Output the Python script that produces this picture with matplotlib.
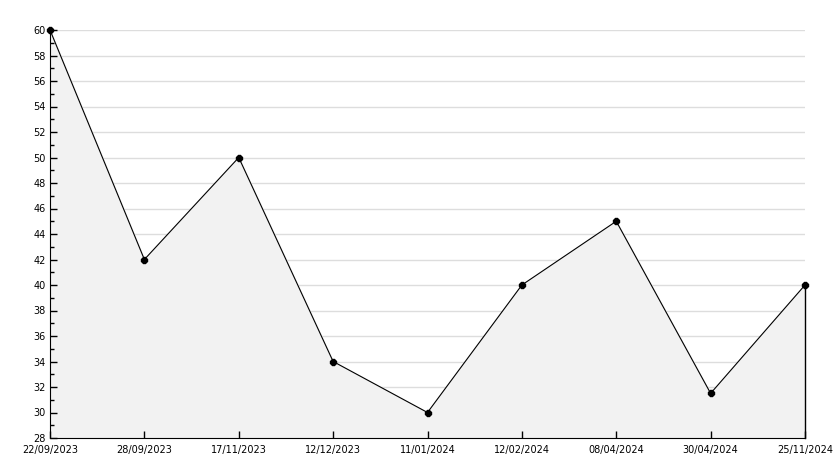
import matplotlib
matplotlib.use('Agg')
import matplotlib.pyplot as plt
from matplotlib.ticker import MultipleLocator

# data
dates = ['22/09/2023', '28/09/2023', '17/11/2023', '12/12/2023', '11/01/2024',
         '12/02/2024', '08/04/2024', '30/04/2024', '25/11/2024']
values = [60, 42, 50, 34, 30, 40, 45, 31.5, 40]

fig = plt.figure(figsize=(8.34, 4.68), dpi=100)
ax = fig.add_axes([50 / 834, 30 / 468, 755 / 834, 408 / 468])

x = list(range(len(dates)))
ymin, ymax = 28, 60

# grid under the filled area
for v in range(30, 61, 2):
    ax.axhline(v, color='#dddddd', linewidth=1, zorder=0)

ax.fill_between(x, values, ymin, color='#f2f2f2', zorder=1)
ax.plot([x[-1], x[-1]], [ymin, values[-1]], color='black', linewidth=1,
        zorder=2, clip_on=False)
ax.plot(x, values, color='black', linewidth=0.8, zorder=3)
ax.plot(x, values, linestyle='none', marker='8', markersize=4.5, color='black',
        zorder=4, clip_on=False)

ax.set_xlim(0, len(dates) - 1)
ax.set_ylim(ymin, ymax)
ax.set_xticks(x)
ax.set_xticklabels(dates)
ax.yaxis.set_major_locator(MultipleLocator(2))
ax.yaxis.set_minor_locator(MultipleLocator(1))

ax.spines['top'].set_visible(False)
ax.spines['right'].set_visible(False)
ax.tick_params(axis='both', which='major', direction='in', length=5, width=1,
               labelsize=7, pad=3)
ax.tick_params(axis='y', which='minor', direction='in', length=3, width=1)
ax.tick_params(axis='x', pad=5)

# lowest y label sits a little higher, as in the reference
lbl = ax.get_yticklabels()[0]
lbl.set_verticalalignment('bottom')

fig.savefig('out.png', dpi=100)
